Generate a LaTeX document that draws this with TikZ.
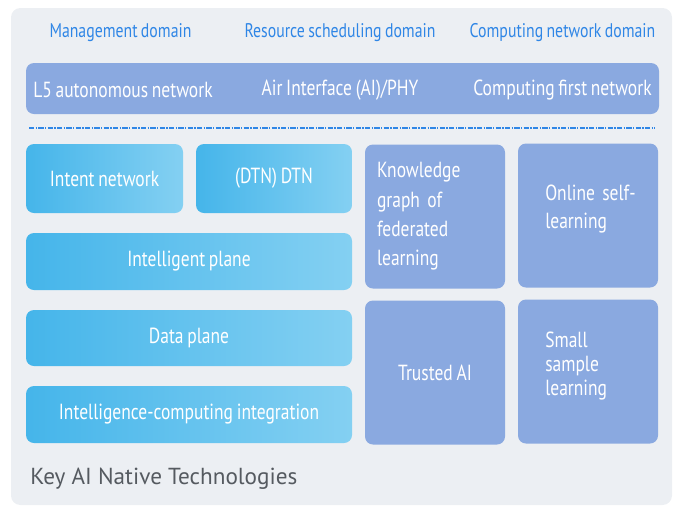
\documentclass[tikz,border=0pt]{standalone}
\usepackage{fontspec}
\setmainfont{PT Sans}[FakeStretch=0.80, WordSpace=0.8]
\newfontfamily\keyfont{PT Sans}
\usetikzlibrary{positioning}

\definecolor{panelgrey}{HTML}{ECEFF3}
\definecolor{domainblue}{HTML}{2F86E6}
\definecolor{layerblue}{HTML}{8AA9E0}
\definecolor{planeleft}{HTML}{45B5EA}
\definecolor{planeright}{HTML}{84D0F2}
\definecolor{keygrey}{HTML}{555A60}

\tikzset{
    sized/.style 2 args={minimum width=#1*0.75pt, minimum height=#2*0.75pt, inner sep=0pt, outer sep=0pt},
    domaintext/.style={text=domainblue, font=\fontsize{14.8}{17}\selectfont},
    layerbox/.style={fill=layerblue, rounded corners=6pt, draw=none},
    planebox/.style={left color=planeleft, right color=planeright, rounded corners=6pt, draw=none,
        text=white, font=\fontsize{16.4}{19}\selectfont},
    techbox/.style={layerbox, text=white, font=\fontsize{16.4}{19}\selectfont},
    whitetext/.style={text=white, font=\fontsize{16.4}{19}\selectfont}
}

\begin{document}
\begin{tikzpicture}[x=0.75pt,y=0.75pt,yscale=-1,xscale=1]
    \useasboundingbox (0,0) rectangle (680,511);

    %Shape: Rectangle [panel]
    \node[sized={661}{497}, fill=panelgrey, rounded corners=7pt] (panel) at (341.5,256.5) {};

    % Text Node [domains]
    \node[domaintext] (mgmt) at (120.5,33) {Management domain};
    \node[domaintext] (sched) at (340,33) {Resource scheduling domain};
    \node[domaintext] (cnet) at (562.5,33) {Computing network domain};

    %Shape: Rectangle [top layer]
    \node[layerbox, sized={633}{51}] (layer) at (342.5,88.5) {};
    \node[whitetext] (l5) at (123,90) {L5 autonomous network};
    \node[whitetext] (air) at (340,90) {Air Interface (AI)/PHY};
    \node[whitetext] (cfn) at (562.5,90) {Computing first network};

    %Straight Lines [separator]
    \coordinate (sepL) at (29,128);
    \coordinate (sepR) at (655,128);
    \draw[domainblue, line width=1.2pt, dash pattern=on 4pt off 1pt on 1pt off 1pt] (sepL) -- (sepR);

    %Shape: Rectangle [planes]
    \node[planebox, sized={157}{69}] (intent) at (104.5,178.5) {Intent network};
    \node[planebox, sized={156}{69}] (dtn) at (274,178.5) {(DTN) DTN};
    \node[planebox, sized={326}{57}] (intel) at (189,261.5) {Intelligent plane};
    \node[planebox, sized={326}{56}] (data) at (189,338) {Data plane};
    \node[planebox, sized={326}{57}] (integ) at (189,414.5) {Intelligence-computing integration};

    %Shape: Rectangle [technologies]
    \node[techbox, sized={140}{144}, text width=87pt, align=left,
        font=\fontsize{16.4}{22}\selectfont] (kg) at (435,216.5)
        {Knowledge\\graph of\\federated\\learning};
    \node[techbox, sized={140}{144}] (online) at (588,215.5) {};
    \node[techbox, sized={140}{144}] (trusted) at (435,372.5) {Trusted AI};
    \node[techbox, sized={140}{144}] (small) at (588,371.5) {};

    % Text Node
    \node[whitetext, anchor=west, inner sep=0pt, text width=80pt, align=left,
        font=\fontsize{16.4}{21}\selectfont] (onlinetext) at (545,209) {Online self-\\learning};
    \node[whitetext, anchor=west, inner sep=0pt, text width=80pt, align=left,
        font=\fontsize{16.4}{18}\selectfont] (smalltext) at (545,366) {Small\\sample\\learning};

    % Text Node
    \node[anchor=west, text=keygrey, font=\keyfont\fontsize{17.4}{20}\selectfont, inner sep=0pt]
        (key) at (30,479) {Key AI Native Technologies};

\end{tikzpicture}
\end{document}
